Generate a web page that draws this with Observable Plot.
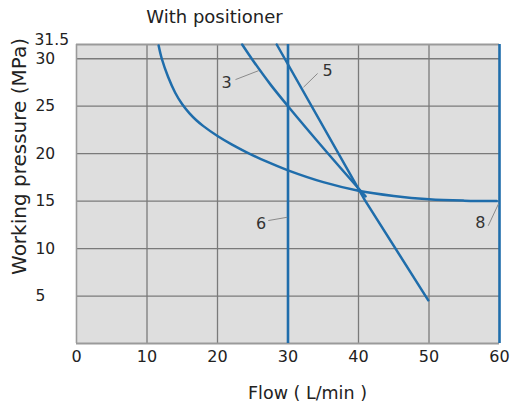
<!DOCTYPE html>
<html>
<head>
<meta charset="utf-8">
<script src="https://cdn.jsdelivr.net/npm/d3@7"></script>
<script src="https://cdn.jsdelivr.net/npm/@observablehq/plot@0.6"></script>
<style>
  html, body { margin: 0; padding: 0; background: #fff; }
  #chart svg { display: block; }
</style>
</head>
<body>
<div id="chart"></div>
<script>
// ---- data ----
const title = "With positioner";
const xLabel = "Flow ( L/min )";
const yLabel = "Working pressure (MPa)";
const xTicks = [0, 10, 20, 30, 40, 50, 60];
const yTicks = [5, 10, 15, 20, 25, 30];
const yTopTick = [31.5];
const xGrid = [10, 20, 30, 40, 50];
const yGrid = [5, 10, 15, 20, 25, 30];

// unlabelled curved characteristic
const curveFlow = [11.65, 12.1, 13, 14, 15, 16, 17, 18, 20, 22, 24, 27, 30, 35, 40, 45, 50, 55, 59.6];
const curvePressure = [31.4, 30, 28.07, 26.42, 25.2, 24.27, 23.52, 22.9, 21.86, 20.98, 20.2, 19.15, 18.24, 17.0, 16.1, 15.55, 15.2, 15.05, 15.0];
// curve 3
const c3Flow = [23.5, 25, 27.5, 30, 35, 41];
const c3Pressure = [31.5, 29.85, 27.3, 25, 20.6, 15.5];
// curve 5
const c5Flow = [28.4, 40.9, 49.9];
const c5Pressure = [31.5, 15.1, 4.55];
// curves 6 and 8 (vertical limits)
const verticalFlow = [30, 60];
const verticalRange = [0, 31.5];

// curve labels and their leader lines
const labelText = ["3", "5", "6", "8"];
const labelFlow = [21.3, 35.6, 26.2, 57.3];
const labelPressure = [27.5, 28.7, 12.65, 12.75];
const leaderFrom = [[22.55, 27.8], [34.2, 28.45], [27.2, 12.95], [58.4, 12.4]];
const leaderTo = [[25.85, 28.75], [32.2, 27.0], [29.9, 13.3], [59.85, 14.7]];

// ---- build tables ----
const toRows = (xs, ys) => xs.map((x, i) => ({x, y: ys[i]}));
const curveRows = toRows(curveFlow, curvePressure);
const c3Rows = toRows(c3Flow, c3Pressure);
const c5Rows = toRows(c5Flow, c5Pressure);
const labels = labelText.map((t, i) => ({t, x: labelFlow[i], y: labelPressure[i]}));
const leaders = leaderFrom.map((a, i) => ({x1: a[0], y1: a[1], x2: leaderTo[i][0], y2: leaderTo[i][1]}));

const blue = "#1f6dab";
const gridColor = "#7a7a7a";
const font = "DejaVu Sans";

const chart = Plot.plot({
  width: 512,
  height: 403,
  marginLeft: 76,
  marginRight: 13,
  marginTop: 44,
  marginBottom: 60,
  style: {fontFamily: font, color: "#222", background: "#fff"},
  x: {domain: [0, 60]},
  y: {domain: [0, 31.5]},
  marks: [
    Plot.frame({fill: "#dedede", stroke: null}),
    Plot.ruleX(xGrid, {stroke: gridColor, strokeWidth: 1.3}),
    Plot.ruleY(yGrid, {stroke: gridColor, strokeWidth: 1.3}),
    Plot.ruleX([0], {stroke: "#9a9a9a", strokeWidth: 1.6}),
    Plot.ruleY(verticalRange, {stroke: "#9a9a9a", strokeWidth: 1.8}),
    Plot.ruleX(verticalFlow, {y1: verticalRange[0], y2: verticalRange[1], stroke: blue, strokeWidth: 2.6}),
    Plot.line(curveRows, {x: "x", y: "y", stroke: blue, strokeWidth: 2.5, curve: "catmull-rom"}),
    Plot.line(c3Rows, {x: "x", y: "y", stroke: blue, strokeWidth: 2.5, curve: "catmull-rom"}),
    Plot.line(c5Rows, {x: "x", y: "y", stroke: blue, strokeWidth: 2.5}),
    Plot.link(leaders, {x1: "x1", y1: "y1", x2: "x2", y2: "y2", stroke: "#8a8a8a", strokeWidth: 1}),
    Plot.text(labels, {x: "x", y: "y", text: "t", fontSize: 16, fill: "#333"}),
    Plot.axisX({ticks: xTicks, tickSize: 0, tickPadding: 7, fontSize: 16, tickFormat: d => String(d), label: null}),
    Plot.axisY({ticks: yTicks, tickSize: 0, tickPadding: 0, textAnchor: "start", dx: -41, fontSize: 15.5, tickFormat: d => String(d), label: null}),
    Plot.axisY({ticks: yTopTick, tickSize: 0, tickPadding: 0, textAnchor: "start", dx: -42, dy: -4, fontSize: 15.5, tickFormat: d => String(d), label: null}),
    Plot.text([title], {frameAnchor: "top-left", dx: 138, dy: -27, textAnchor: "middle", lineAnchor: "middle", fontSize: 18, fill: "#222"}),
    Plot.text([xLabel], {frameAnchor: "bottom-left", dx: 231, dy: 50, textAnchor: "middle", lineAnchor: "middle", fontSize: 17.5, fill: "#222"}),
    Plot.text([yLabel], {frameAnchor: "left", x: null, y: [19.7], dx: -57, rotate: -90, textAnchor: "middle", lineAnchor: "middle", fontSize: 20, fill: "#222"})
  ]
});
document.getElementById("chart").appendChild(chart);
</script>
</body>
</html>
